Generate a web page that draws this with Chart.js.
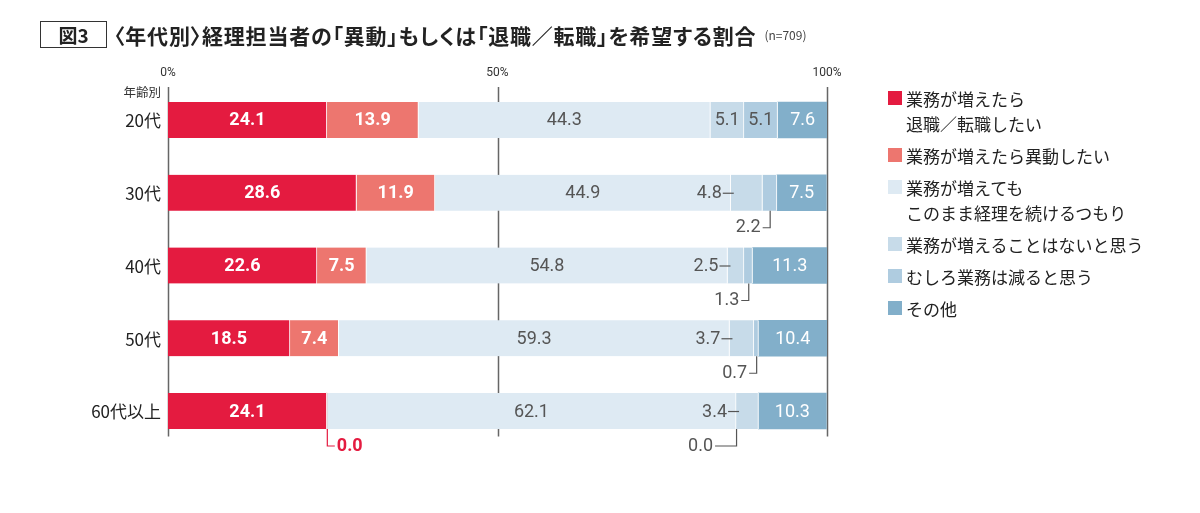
<!DOCTYPE html>
<html lang="ja">
<head>
<meta charset="utf-8">
<script src="https://cdn.jsdelivr.net/npm/chart.js@4.4.1/dist/chart.umd.min.js"></script>
<style>
  html,body{margin:0;padding:0;background:#fff;}
  #wrap{position:relative;width:1200px;height:513px;overflow:hidden;font-family:"Noto Sans CJK JP","Noto Sans",sans-serif;color:#222;}
  #c{position:absolute;left:0;top:0;}
  #title{position:absolute;left:40px;top:21px;height:27px;display:flex;align-items:center;white-space:nowrap;font-feature-settings:"palt";}
  #fig{box-sizing:border-box;width:67px;height:27px;border:1.5px solid #333;display:flex;align-items:center;justify-content:center;font-weight:700;font-size:19px;color:#222;}
  #ttext{margin-left:7px;font-weight:700;font-size:21px;color:#222;letter-spacing:0.8px;}
  #n{margin-left:8px;font-size:12px;color:#444;font-weight:400;}
  #legend{position:absolute;left:888px;top:86px;font-size:17px;color:#222;}
  .li{position:relative;padding-left:18px;line-height:25px;margin-bottom:7px;}
  .sw{position:absolute;left:0;top:5px;width:14px;height:14px;}
</style>
</head>
<body>
<div id="wrap">
  <canvas id="c" width="1200" height="513"></canvas>
  <div id="title"><div id="fig">図3</div><div id="ttext">〈年代別〉経理担当者の「異動」もしくは「退職／転職」を希望する割合</div><div id="n">(n=709)</div></div>
  <div id="legend"></div>
</div>
<script>
// ---- data ----
const categories = ['20代', '30代', '40代', '50代', '60代以上'];
const quitValues     = [24.1, 28.6, 22.6, 18.5, 24.1];
const transferValues = [13.9, 11.9, 7.5, 7.4, 0.0];
const continueValues = [44.3, 44.9, 54.8, 59.3, 62.1];
const noIncreaseValues = [5.1, 4.8, 2.5, 3.7, 3.4];
const decreaseValues = [5.1, 2.2, 1.3, 0.7, 0.0];
const otherValues    = [7.6, 7.5, 11.3, 10.4, 10.3];
const seriesNames = [
  '業務が増えたら\n退職／転職したい',
  '業務が増えたら異動したい',
  '業務が増えても\nこのまま経理を続けるつもり',
  '業務が増えることはないと思う',
  'むしろ業務は減ると思う',
  'その他'
];
const xTickValues = [0, 50, 100];
const axisTitle = '年齢別';

const colors = ['#E41B40', '#ED766F', '#DEEAF3', '#C7DBE9', '#AFCCE0', '#82AFCA'];
const seriesValues = [quitValues, transferValues, continueValues, noIncreaseValues, decreaseValues, otherValues];

// legend (HTML)
const lg = document.getElementById('legend');
seriesNames.forEach((name, i) => {
  const d = document.createElement('div');
  d.className = 'li';
  const sw = document.createElement('span');
  sw.className = 'sw';
  sw.style.background = colors[i];
  d.appendChild(sw);
  name.split('\n').forEach((line, j) => {
    if (j > 0) d.appendChild(document.createElement('br'));
    d.appendChild(document.createTextNode(line));
  });
  lg.appendChild(d);
});

const NUM_FONT = 'Roboto, "Noto Sans", sans-serif';
const JP_FONT = '"Noto Sans CJK JP", "Noto Sans", sans-serif';

const deco = {
  id: 'deco',
  beforeDatasetsDraw(chart) {
    const ctx = chart.ctx, x = chart.scales.x, ca = chart.chartArea;
    ctx.save();
    ctx.strokeStyle = '#666';
    ctx.lineWidth = 1.5;
    xTickValues.forEach(v => {
      const px = Math.round(x.getPixelForValue(v)) + 0.5;
      ctx.beginPath();
      ctx.moveTo(px, 87);
      ctx.lineTo(px, ca.bottom - 11);
      ctx.stroke();
    });
    ctx.restore();
  },
  afterDatasetsDraw(chart) {
    const ctx = chart.ctx, x = chart.scales.x, y = chart.scales.y;
    ctx.save();
    // x tick labels
    ctx.fillStyle = '#333';
    ctx.font = '12px ' + NUM_FONT;
    ctx.textAlign = 'center';
    ctx.textBaseline = 'middle';
    xTickValues.forEach(v => ctx.fillText(v + '%', x.getPixelForValue(v), 73));
    // axis title
    ctx.font = '12.5px ' + JP_FONT;
    ctx.textAlign = 'right';
    ctx.fillText(axisTitle, 161, 92);
    // category labels
    ctx.font = '17px ' + JP_FONT;
    ctx.fillStyle = '#222';
    categories.forEach((c, i) => ctx.fillText(c, 161, y.getPixelForValue(i) + 1));

    // segment labels
    const metas = chart.data.datasets.map((d, k) => chart.getDatasetMeta(k));
    ctx.lineWidth = 1.2;
    metas.forEach((meta, k) => {
      meta.data.forEach((bar, i) => {
        const p = bar.getProps(['x', 'y', 'base', 'height'], true);
        const v = chart.data.datasets[k].data[i];
        const left = Math.min(p.x, p.base), right = Math.max(p.x, p.base);
        const cx = (left + right) / 2, cy = p.y;
        const bottom = p.y + p.height / 2;
        const txt = v.toFixed(1);
        ctx.textBaseline = 'middle';
        if (k === 0 || (k === 1 && v > 0)) {
          ctx.fillStyle = '#fff';
          ctx.font = 'bold 18px ' + NUM_FONT;
          ctx.textAlign = 'center';
          ctx.fillText(txt, cx, cy + 1);
        } else if (k === 1) {
          // zero: red label below with └ leader
          ctx.strokeStyle = '#E41B40';
          ctx.beginPath();
          ctx.moveTo(left + 0.5, bottom);
          ctx.lineTo(left + 0.5, bottom + 17);
          ctx.lineTo(left + 8, bottom + 17);
          ctx.stroke();
          ctx.fillStyle = '#E41B40';
          ctx.font = 'bold 18px ' + NUM_FONT;
          ctx.textAlign = 'left';
          ctx.fillText(txt, left + 10, bottom + 17);
        } else if (k === 2) {
          ctx.fillStyle = '#555';
          ctx.font = '18px ' + NUM_FONT;
          ctx.textAlign = 'center';
          ctx.fillText(txt, cx, cy + 1);
        } else if (k === 3 || k === 4) {
          ctx.fillStyle = '#555';
          ctx.strokeStyle = '#555';
          ctx.font = '18px ' + NUM_FONT;
          if (v >= 5) {
            ctx.textAlign = 'center';
            ctx.fillText(txt, cx, cy + 1);
          } else if (k === 3) {
            ctx.beginPath();
            ctx.moveTo(left - 8, cy + 0.5);
            ctx.lineTo(left + 3, cy + 0.5);
            ctx.stroke();
            ctx.textAlign = 'right';
            ctx.fillText(txt, left - 9, cy + 1);
          } else {
            let ax = cx, len = 7;
            if (v === 0) {
              const prev = metas[3].data[i].getProps(['x', 'base'], true);
              ax = Math.min(prev.x, prev.base);
              len = 21;
            }
            ctx.beginPath();
            ctx.moveTo(ax + 0.5, bottom);
            ctx.lineTo(ax + 0.5, bottom + 17);
            ctx.lineTo(ax - len, bottom + 17);
            ctx.stroke();
            ctx.textAlign = 'right';
            ctx.fillText(txt, ax - len - 2, bottom + 17);
          }
        } else {
          ctx.fillStyle = '#fff';
          ctx.font = '18px ' + NUM_FONT;
          ctx.textAlign = 'center';
          ctx.fillText(txt, cx, cy + 1);
        }
      });
    });
    ctx.restore();
  }
};

new Chart(document.getElementById('c'), {
  type: 'bar',
  data: {
    labels: categories,
    datasets: seriesValues.map((vals, k) => ({
      label: seriesNames[k].replace('\n', ''),
      data: vals,
      backgroundColor: colors[k],
      borderColor: '#ffffff',
      borderWidth: {left: 0, right: k < 5 ? 1 : 0, top: 0, bottom: 0},
      borderSkipped: false,
      barThickness: 36
    }))
  },
  options: {
    indexAxis: 'y',
    responsive: false,
    animation: false,
    layout: {padding: {left: 168, right: 373, top: 83.6, bottom: 65.6}},
    plugins: {legend: {display: false}, tooltip: {enabled: false}, title: {display: false}},
    scales: {
      x: {stacked: true, min: 0, max: 100, display: false},
      y: {stacked: true, display: false}
    }
  },
  plugins: [deco]
});
</script>
</body>
</html>
